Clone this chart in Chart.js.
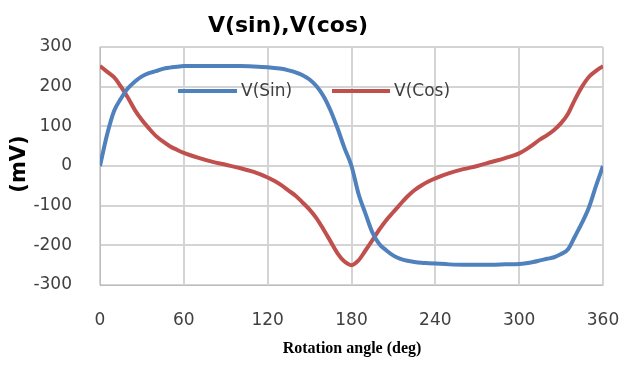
<!DOCTYPE html>
<html>
<head>
<meta charset="utf-8">
<script src="https://cdn.jsdelivr.net/npm/chart.js@4"></script>
<style>
  html, body { margin: 0; padding: 0; background: #fff; }
  #wrap { width: 629px; height: 366px; }
</style>
</head>
<body>
<div id="wrap"><canvas id="chart" width="629" height="366"></canvas></div>
<script>
// angles (deg) and readings (mV)
const angles = [0, 5, 10, 15, 20, 25, 30, 35, 40, 45, 50, 55, 60, 70, 80, 90, 100, 110, 120, 125, 130, 135, 140, 145, 150, 155, 160, 165, 170, 175, 180,
  185, 190, 195, 200, 205, 210, 215, 220, 225, 230, 235, 240, 250, 260, 270, 280, 290, 300, 305, 310, 315, 320, 325, 330, 335, 340, 345, 350, 355, 360];
const vSin = [0, 78, 138, 170, 196, 213, 226, 234, 239, 245, 248, 250, 252, 252, 252, 252, 252, 251, 249, 247, 245, 241, 236, 229, 218, 201, 176, 140, 95, 45, 0,
  -70, -120, -168, -197, -213, -226, -234, -239, -242, -244, -245, -246, -248, -249, -249, -249, -248, -247, -245, -242, -238, -234, -230, -222, -210, -177, -143, -104, -50, 0];
const vCos = [252, 238, 224, 200, 172, 141, 116, 95, 76, 62, 50, 41, 33, 21, 11, 3, -5, -15, -29, -38, -49, -62, -75, -92, -110, -132, -160, -190, -220, -241, -250,
  -238, -213, -187, -160, -136, -116, -96, -77, -61, -49, -39, -31, -18, -8, 0, 10, 20, 32, 42, 54, 67, 78, 91, 108, 132, 168, 200, 225, 240, 252];
const xTicks = { min: 0, max: 360, step: 60 };
const yTicks = { min: -300, max: 300, step: 100 };

const blue = '#4F81BD';
const red = '#C0504D';
const gridColor = '#D4D4D4';

function pts(vals) {
  return angles.map((a, i) => ({ x: a, y: vals[i] }));
}

// grid lines at the scales' own ticks, painted behind whatever is already drawn
const gridPlugin = {
  id: 'gridPlugin',
  afterDraw(chart) {
    const c = chart.ctx;
    const a = chart.chartArea;
    const sx = chart.scales.x, sy = chart.scales.y;
    c.save();
    c.globalCompositeOperation = 'destination-over';
    c.strokeStyle = gridColor;
    c.lineWidth = 2;
    c.beginPath();
    sx.ticks.forEach(t => {
      const px = Math.round(sx.getPixelForValue(t.value));
      c.moveTo(px, a.top); c.lineTo(px, a.bottom);
    });
    sy.ticks.forEach(t => {
      const py = Math.round(sy.getPixelForValue(t.value));
      c.moveTo(a.left, py); c.lineTo(a.right, py);
    });
    c.stroke();
    c.restore();
  }
};

// title, axis titles and the legend drawn at fixed spots
const decor = {
  id: 'decor',
  afterDraw(chart) {
    const c = chart.ctx;
    c.save();
    c.fillStyle = '#000';
    c.textAlign = 'center';
    c.textBaseline = 'middle';
    c.font = 'bold 22px "DejaVu Sans"';
    c.fillText('V(sin),V(cos)', 288, 26);

    c.font = 'bold 16px "Liberation Serif"';
    c.fillText('Rotation angle (deg)', 352, 349);

    c.translate(20, 164);
    c.rotate(-Math.PI / 2);
    c.font = 'bold 21px "DejaVu Sans"';
    c.fillText('(mV)', 0, 0);
    c.restore();

    // legend
    c.save();
    c.lineWidth = 4;
    c.strokeStyle = blue;
    c.beginPath(); c.moveTo(178, 91); c.lineTo(237, 91); c.stroke();
    c.strokeStyle = red;
    c.beginPath(); c.moveTo(332, 91); c.lineTo(390, 91); c.stroke();
    c.fillStyle = '#404040';
    c.textAlign = 'left';
    c.textBaseline = 'middle';
    c.font = '17px "DejaVu Sans"';
    c.fillText('V(Sin)', 241, 92);
    c.fillText('V(Cos)', 394, 92);
    c.restore();
  }
};

new Chart(document.getElementById('chart'), {
  type: 'line',
  data: {
    datasets: [{
      label: 'V(Sin)',
      data: pts(vSin),
      borderColor: blue,
      backgroundColor: blue,
      borderWidth: 4,
      pointRadius: 0,
      cubicInterpolationMode: 'monotone'
    }, {
      label: 'V(Cos)',
      data: pts(vCos),
      borderColor: red,
      backgroundColor: red,
      borderWidth: 4,
      pointRadius: 0,
      cubicInterpolationMode: 'monotone'
    }]
  },
  options: {
    responsive: false,
    animation: false,
    layout: { padding: { top: 47, right: 26, left: 0, bottom: 0 } },
    plugins: { legend: { display: false }, title: { display: false }, tooltip: { enabled: false } },
    scales: {
      x: {
        type: 'linear',
        min: xTicks.min,
        max: xTicks.max,
        afterFit: s => { s.height = 81; s.paddingRight = 26; },
        grid: { color: gridColor, lineWidth: 2, drawTicks: false },
        ticks: { stepSize: xTicks.step, padding: 25, color: '#404040', font: { family: 'DejaVu Sans', size: 17 }, maxRotation: 0 }
      },
      y: {
        type: 'linear',
        min: yTicks.min,
        max: yTicks.max,
        afterFit: s => { s.width = 100; },
        grid: { color: gridColor, lineWidth: 2, drawTicks: false },
        ticks: { stepSize: yTicks.step, padding: 28, color: '#404040', font: { family: 'DejaVu Sans', size: 17 } }
      }
    }
  },
  plugins: [gridPlugin, decor]
});
</script>
</body>
</html>
